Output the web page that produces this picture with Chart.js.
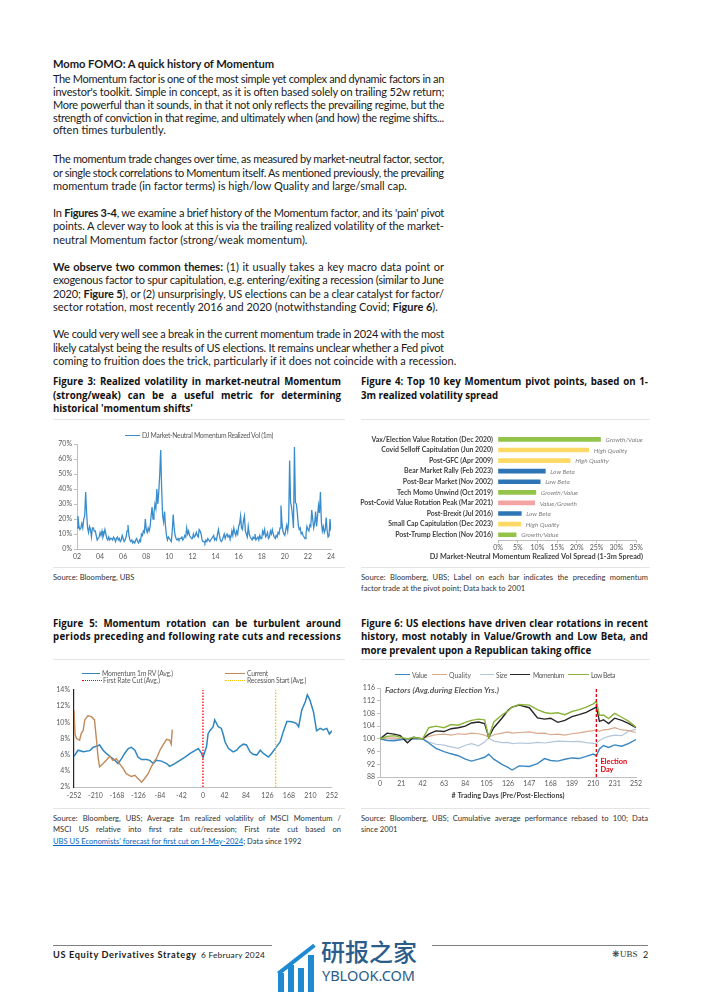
<!DOCTYPE html>
<html><head><meta charset="utf-8">
<script src="https://cdn.jsdelivr.net/npm/chart.js@4.4.1/dist/chart.umd.min.js"></script>
<style>
html,body{margin:0;padding:0;background:#fff;}
#page{position:relative;width:702px;height:992px;overflow:hidden;background:#fff;font-family:Lato,'Liberation Sans',sans-serif;color:#1a1a1a;}
.t{position:absolute;white-space:nowrap;line-height:13px;font-size:11px;}
.h{font-size:11.2px;font-weight:bold;line-height:14px;}
.ft{font-family:'Open Sans',Lato,sans-serif;font-size:9.7px;font-weight:bold;line-height:12px;color:#111;}
.src{font-size:7.6px;line-height:10px;color:#333;}
.lg{position:absolute;white-space:nowrap;font-size:6.8px;line-height:8px;color:#595959;}
.ls{position:absolute;height:0;width:0;}
.sep{position:absolute;height:1px;background:#e4e4e4;}
canvas{position:absolute;}
a{color:#0563c1;text-decoration:underline;}
</style></head>
<body><div id="page">

<div class="t h" style="left:53px;top:56.5px" data-w="221">Momo FOMO: A quick history of Momentum</div>

<div class="t" style="left:53px;top:72px" data-w="391" data-j>The Momentum factor is one of the most simple yet complex and dynamic factors in an</div>
<div class="t" style="left:53px;top:85px" data-w="391" data-j>investor's toolkit. Simple in concept, as it is often based solely on trailing 52w return;</div>
<div class="t" style="left:53px;top:98px" data-w="391" data-j>More powerful than it sounds, in that it not only reflects the prevailing regime, but the</div>
<div class="t" style="left:53px;top:110.5px" data-w="391" data-j>strength of conviction in that regime, and ultimately when (and how) the regime shifts...</div>
<div class="t" style="left:53px;top:123px">often times turbulently.</div>

<div class="t" style="left:53px;top:152px" data-w="391" data-j>The momentum trade changes over time, as measured by market-neutral factor, sector,</div>
<div class="t" style="left:53px;top:165.5px" data-w="391" data-j>or single stock correlations to Momentum itself. As mentioned previously, the prevailing</div>
<div class="t" style="left:53px;top:179px">momentum trade (in factor terms) is high/low Quality and large/small cap.</div>

<div class="t" style="left:53px;top:205.5px" data-w="391" data-j>In <b>Figures 3-4</b>, we examine a brief history of the Momentum factor, and its 'pain' pivot</div>
<div class="t" style="left:53px;top:219px" data-w="391" data-j>points. A clever way to look at this is via the trailing realized volatility of the market-</div>
<div class="t" style="left:53px;top:232.5px">neutral Momentum factor (strong/weak momentum).</div>

<div class="t" style="left:53px;top:259.5px" data-w="391" data-j><b>We observe two common themes:</b> (1) it usually takes a key macro data point or</div>
<div class="t" style="left:53px;top:273px" data-w="391" data-j>exogenous factor to spur capitulation, e.g. entering/exiting a recession (similar to June</div>
<div class="t" style="left:53px;top:286.5px" data-w="391" data-j>2020; <b>Figure 5</b>), or (2) unsurprisingly, US elections can be a clear catalyst for factor/</div>
<div class="t" style="left:53px;top:300px">sector rotation, most recently 2016 and 2020 (notwithstanding Covid; <b>Figure 6</b>).</div>

<div class="t" style="left:53px;top:327px" data-w="391" data-j>We could very well see a break in the current momentum trade in 2024 with the most</div>
<div class="t" style="left:53px;top:340.5px" data-w="391" data-j>likely catalyst being the results of US elections. It remains unclear whether a Fed pivot</div>
<div class="t" style="left:53px;top:354px">coming to fruition does the trick, particularly if it does not coincide with a recession.</div>

<!-- Figure titles -->
<div class="t ft" style="left:53px;top:376.2px" data-w="288" data-j>Figure 3: Realized volatility in market-neutral Momentum</div>
<div class="t ft" style="left:53px;top:389.7px" data-w="288" data-j>(strong/weak) can be a useful metric for determining</div>
<div class="t ft" style="left:53px;top:403.2px">historical 'momentum shifts'</div>

<div class="t ft" style="left:361px;top:376.2px" data-w="287" data-j>Figure 4: Top 10 key Momentum pivot points, based on 1-</div>
<div class="t ft" style="left:361px;top:389.7px">3m realized volatility spread</div>

<div class="sep" style="left:53px;top:419px;width:292px"></div>
<div class="sep" style="left:361px;top:419px;width:289px"></div>
<div class="sep" style="left:53px;top:567px;width:292px"></div>
<div class="sep" style="left:361px;top:567px;width:289px"></div>

<canvas id="c3" width="290" height="140" style="left:53px;top:425px"></canvas>
<div class="ls" style="left:125px;top:434.5px;width:15px;border-top:1.5px solid #3a8dcc"></div>
<div class="lg" style="left:142px;top:431px" data-w="131">DJ Market-Neutral Momentum Realized Vol (1m)</div>

<canvas id="c4" width="295" height="140" style="left:355px;top:425px"></canvas>

<div class="t src" style="left:53px;top:571.7px">Source: Bloomberg, UBS</div>
<div class="t src" style="left:361px;top:571.7px" data-w="287" data-j>Source: Bloomberg, UBS; Label on each bar indicates the preceding momentum</div>
<div class="t src" style="left:361px;top:582.7px">factor trade at the pivot point; Data back to 2001</div>

<div class="t ft" style="left:53px;top:617.7px" data-w="288" data-j>Figure 5: Momentum rotation can be turbulent around</div>
<div class="t ft" style="left:53px;top:631.2px" data-w="288">periods preceding and following rate cuts and recessions</div>

<div class="t ft" style="left:361px;top:617.7px" data-w="287" data-j>Figure 6: US elections have driven clear rotations in recent</div>
<div class="t ft" style="left:361px;top:631.2px" data-w="287" data-j>history, most notably in Value/Growth and Low Beta, and</div>
<div class="t ft" style="left:361px;top:644.7px">more prevalent upon a Republican taking office</div>

<div class="sep" style="left:53px;top:659px;width:292px"></div>
<div class="sep" style="left:361px;top:659px;width:289px"></div>
<div class="sep" style="left:53px;top:808px;width:292px"></div>
<div class="sep" style="left:361px;top:808px;width:289px"></div>

<canvas id="c5" width="290" height="140" style="left:53px;top:665px"></canvas>
<div class="ls" style="left:82px;top:672.7px;width:18px;border-top:1.5px solid #2e86c1"></div>
<div class="lg" style="left:102px;top:669.3px" data-w="71">Momentum 1m RV (Avg.)</div>
<div class="ls" style="left:225px;top:672.7px;width:20px;border-top:1.5px solid #c08a5b"></div>
<div class="lg" style="left:247px;top:669.3px" data-w="21">Current</div>
<div class="ls" style="left:82px;top:679.5px;width:20px;border-top:1.5px dotted #ff0000"></div>
<div class="lg" style="left:103px;top:676px" data-w="57">First Rate Cut (Avg.)</div>
<div class="ls" style="left:225px;top:679.5px;width:20px;border-top:1.5px dotted #ffc000"></div>
<div class="lg" style="left:247px;top:676px" data-w="59">Recession Start (Avg.)</div>

<canvas id="c6" width="289" height="140" style="left:361px;top:665px"></canvas>
<div class="ls" style="left:395px;top:674.3px;width:15px;border-top:1.5px solid #3a87c2"></div>
<div class="lg" style="left:412px;top:671px" data-w="15">Value</div>
<div class="ls" style="left:432px;top:674.3px;width:15px;border-top:1.5px solid #d9a98c"></div>
<div class="lg" style="left:449px;top:671px" data-w="22">Quality</div>
<div class="ls" style="left:480px;top:674.3px;width:14px;border-top:1.5px solid #b4c6da"></div>
<div class="lg" style="left:496px;top:671px" data-w="11">Size</div>
<div class="ls" style="left:510px;top:674.3px;width:20px;border-top:1.5px solid #262626"></div>
<div class="lg" style="left:533px;top:671px" data-w="31">Momentum</div>
<div class="ls" style="left:568px;top:674.3px;width:21px;border-top:1.5px solid #8cb43c"></div>
<div class="lg" style="left:591px;top:671px" data-w="24">Low Beta</div>

<div class="t src" style="left:53px;top:812.7px" data-w="288" data-j>Source: Bloomberg, UBS; Average 1m realized volatility of MSCI Momentum /</div>
<div class="t src" style="left:53px;top:824.2px" data-w="288" data-j>MSCI US relative into first rate cut/recession; First rate cut based on</div>
<div class="t src" style="left:53px;top:835.7px"><a>UBS US Economists' forecast for first cut on 1-May-2024</a>; Data since 1992</div>

<div class="t src" style="left:361px;top:812.7px" data-w="287" data-j>Source: Bloomberg, UBS; Cumulative average performance rebased to 100; Data</div>
<div class="t src" style="left:361px;top:824.2px">since 2001</div>

<!-- footer -->
<div style="position:absolute;left:53px;top:945px;width:595px;height:1px;background:#7f7f7f"></div>
<div class="t" style="left:53px;top:949px;font-size:9.2px;font-weight:bold;line-height:12px" data-w="144">US Equity Derivatives Strategy</div>
<div class="t" style="left:201px;top:949px;font-size:8.4px;line-height:12px" data-w="64">6 February 2024</div>
<div class="t" style="left:612px;top:948px;font-size:9px;line-height:13px;font-family:'Liberation Serif',serif;color:#333">❋UBS</div>
<div class="t" style="left:643px;top:949px;font-size:9px;line-height:12px">2</div>

<!-- watermark -->
<div style="position:absolute;left:272px;top:936px;width:160px;height:56px;background:#fff"></div>
<div style="position:absolute;left:278px;top:973px;width:6px;height:19px;background:#1e8ad2"></div>
<div style="position:absolute;left:288px;top:965px;width:6px;height:27px;background:#1e8ad2"></div>
<div style="position:absolute;left:298px;top:968px;width:6px;height:24px;background:#1e8ad2"></div>
<div style="position:absolute;left:308px;top:955px;width:6px;height:37px;background:#1e8ad2"></div>
<div style="position:absolute;width:46px;height:4px;background:#1e8ad2;transform:rotate(-38deg);transform-origin:0 0;left:277px;top:972px"></div>
<div class="t" style="left:321px;top:936px;font-size:24px;line-height:30px;font-family:'Noto Sans CJK SC',sans-serif;font-weight:500;color:#2b5c8a">研报之家</div>
<div class="t" style="left:322px;top:966px;font-size:14.5px;line-height:18px;font-family:'Noto Sans','Open Sans',sans-serif;color:#2b5c8a;letter-spacing:0.6px" data-w="99">YBLOOK.COM</div>

</div>
<script>
// ---------- Figure 3 data: DJ market-neutral momentum realized vol (1m), monthly from Jan 2002 ----------
const rvStartYear = 2002;
const realizedVol = [
 14,22,15,13,14,17,14,20,22,38,24,14,   // 2002
 11,15,13,8,14,14,12,12,9,6,7,8,        // 2003
 11,9,12,8,10,13,10,7,6,8,6,7,          // 2004
 7,6,8,7,5,7,8,6,7,5,6,9,               // 2005
 7,5,6,8,12,16,9,6,5,6,4,5,             // 2006
 4,6,7,5,4,6,5,10,9,12,11,20,           // 2007
 13,11,14,12,15,22,28,20,24,30,27,40,   // 2008
 30,38,50,66,40,22,18,25,15,9,6,8,      // 2009
 7,6,5,12,23,14,9,7,6,7,6,7,            // 2010
 7,8,6,7,9,8,14,10,12,9,8,7,            // 2011
 7,10,8,9,11,9,8,13,12,10,6,5,          // 2012
 5,4,6,5,7,6,5,6,7,8,9,6,               // 2013
 7,6,10,13,9,6,5,6,8,10,7,9,            // 2014
 10,8,9,7,8,12,9,14,11,9,12,10,         // 2015
 15,17,22,14,13,19,22,12,10,8,15,10,    // 2016
 8,7,6,8,7,10,6,7,8,6,9,7,              // 2017
 7,12,10,13,8,9,11,7,8,12,10,13,        // 2018
 10,8,7,9,8,11,10,14,29,18,12,10,       // 2019
 9,13,16,12,18,59,31,28,22,14,68,31,    // 2020
 30,24,16,13,14,10,11,9,8,7,10,15,      // 2021
 13,12,16,15,26,20,14,17,25,15,22,29,   // 2022
 24,38,18,12,15,11,13,21,12,8,9,20,     // 2023
 12                                      // 2024
];
const rvYearTicks = [2002, 2024, 2];      // min, max, step
const rvPctTicks = [0, 70, 10];

// ---------- Figure 4 data ----------
const pivotLabels = ['Vax/Election Value Rotation (Dec 2020)','Covid Selloff Capitulation (Jun 2020)','Post-GFC (Apr 2009)','Bear Market Rally (Feb 2023)','Post-Bear Market (Nov 2002)','Tech Momo Unwind (Oct 2019)','Post-Covid Value Rotation Peak (Mar 2021)','Post-Brexit (Jul 2016)','Small Cap Capitulation (Dec 2023)','Post-Trump Election (Nov 2016)'];
const pivotSpread = [26, 23, 18.3, 12, 10.7, 9.6, 9.3, 5.9, 5.8, 4.6];
const pivotTrade = ['Growth/Value','High Quality','High Quality','Low Beta','Low Beta','Growth/Value','Value/Growth','Low Beta','High Quality','Growth/Value'];
const spreadTicks = [0, 35, 5];
const spreadAxisTitle = 'DJ Market-Neutral Momentum Realized Vol Spread (1-3m Spread)';

// ---------- Figure 5 data ----------
const rateDays = [-252,-244,-234,-221,-215,-208,-202,-195,-189,-182,-172,-166,-159,-153,-146,-140,-133,-127,-120,-110,-104,-97,-91,-81,-71,-65,-55,-45,-35,-25,-16,-9,-3,0,7,10,14,20,23,30,36,40,43,50,59,66,72,79,85,92,98,105,112,118,128,134,141,151,157,164,170,177,183,187,193,200,204,209,216,222,229,235,242,247,252];
const momentumRV = [5.8,6.55,6.35,6.5,6.9,7.05,7.2,6.55,6.15,5.8,5.3,4.9,5.5,6.15,6.75,6.9,6.55,5.7,5.4,5.4,5.3,4.9,5.3,5.2,4.9,4.55,4.9,5.3,5.7,6.15,6.5,6.75,6.2,5.65,7.0,8.6,9.0,9.45,10.3,9.45,9.25,8.4,7.6,6.75,6.35,6.55,7.0,7.3,7.2,6.35,6.05,5.95,6.55,6.15,5.7,6.15,6.75,7.6,8.85,10.1,10.1,10.0,9.85,9.45,11.5,12.55,13.4,12.75,11.3,8.95,9.25,9.05,9.25,8.55,8.95];
const currentDays = [-252,-250,-247,-241,-238,-234,-231,-225,-218,-212,-208,-205,-202,-195,-189,-182,-176,-169,-163,-156,-150,-140,-133,-127,-120,-114,-107,-101,-94,-91,-84,-78,-71,-65,-62,-60];
const currentRV = [11.5,8.5,8.0,7.8,8.6,9.0,10.3,10.8,10.7,10.3,7.8,5.7,4.5,4.9,5.3,5.8,5.3,5.5,4.9,4.3,3.65,3.3,3.45,3.05,2.6,3.05,3.65,4.5,5.3,5.5,6.55,7.2,7.9,7.8,7.3,9.1];
const firstRateCutDay = 0;
const recessionStartDay = 142;
const rateDayTicks = [-252, 252, 42];
const ratePctTicks = [2, 14, 2];

// ---------- Figure 6 data ----------
const electionDays = [0,7,14,20,27,33,42,48,55,63,70,77,84,90,97,103,107,112,120,126,130,137,147,155,162,168,175,182,189,196,203,210,213,216,220,225,231,238,245,252];
const valueF    = [100,99.5,99.4,99.7,100,100,100,98.7,97,96,95.3,94.7,93.6,93,93.6,94.2,95.2,93.6,92,91,90.2,91.5,91.3,92.2,93.8,93.2,93,93.6,94,93.8,94.5,95.2,94.7,96.8,97.9,97.3,98.1,97.7,98.6,99.8];
const qualityF  = [100,100.2,100.3,100,100,100.2,100,100.8,101.3,101.5,101.2,101.6,101.4,101.8,101.6,101.2,100.5,101.3,101.8,102.2,101.8,102,102.2,101.7,101.8,101.3,101.5,101.2,101.6,101.9,102.3,102.6,102.8,102.4,102.8,103,103.5,102.8,102.6,102];
const sizeF     = [100,99.6,99.8,100,99.7,100,100,99,98.3,98,97.5,97,98,98.5,97.8,99,100.3,99.3,98.8,98.9,98.5,98.7,98.6,98.9,98.7,99,99.3,99.2,99.1,99.2,98.8,98.6,98.5,99.5,100.2,100.8,101.2,101,102.5,103];
const momentumF = [100,101.8,101.5,101,98.8,100.5,100,101.5,102.5,102.3,103.2,103.5,104,105,105.3,104.8,100.5,103.5,106.5,109,110,110.6,109.8,106.6,106.2,106.5,105.2,105.8,107,107.6,108.3,109.5,110,105.5,106,104.8,106.5,105.8,104.8,103.5];
const lowBetaF  = [100,100.8,101,100.5,100,100.5,100,103.5,104,103.5,104.5,104.3,105.2,105.8,106.2,106,100.5,105.3,107.5,108.8,110,110.8,110.6,109.2,108.3,108,108.2,107.6,108.6,109.2,110,111,111.8,107.4,107.5,106.4,108,106.8,105.5,103.7];
const electionDay = 213;
const electionDayTicks = [0, 252, 21];
const electionIdxTicks = [88, 116, 4];

// ---------- text fitting ----------
function fitText(){
  document.querySelectorAll('[data-w]').forEach(el=>{
    const w = parseFloat(el.dataset.w);
    const r = document.createRange(); r.selectNodeContents(el);
    const nat = r.getBoundingClientRect().width;
    const txt = el.textContent;
    const sp = (txt.match(/ /g)||[]).length;
    if (el.hasAttribute('data-j') && nat < w && sp > 0) {
      el.style.wordSpacing = ((w - nat)/sp) + 'px';
    } else {
      el.style.letterSpacing = ((w - nat)/Math.max(1, txt.length)) + 'px';
    }
  });
}
fitText();

// ---------- charts ----------
const F = "Lato, 'Liberation Sans', sans-serif";
const tickFont = {family: F, size: 7};
const gray = '#595959';
Chart.defaults.font.family = F;

// Figure 3
new Chart(document.getElementById('c3'), {
  type: 'line',
  data: { datasets: [{
    label: 'DJ Market-Neutral Momentum Realized Vol (1m)',
    data: realizedVol.map((v,i)=>({x: rvStartYear + i/12, y: v})),
    borderColor: '#3a8dcc', borderWidth: 1.3, pointRadius: 0, tension: 0
  }]},
  options: {
    responsive: false, animation: false, devicePixelRatio: 1,
    layout: {padding: {top: 19, right: 12, bottom: 0, left: 0}},
    plugins: {legend: {display: false}, tooltip: {enabled: false}},
    scales: {
      x: {type: 'linear', min: rvYearTicks[0], max: rvYearTicks[1],
          ticks: {stepSize: rvYearTicks[2], callback: v => String(v).slice(2), font: tickFont, color: gray, padding: 4, maxRotation: 0, minRotation: 0, autoSkip: false},
          grid: {display: false, drawTicks: false}, border: {color: '#bfbfbf'},
          afterFit: s => { s.height = 16; }},
      y: {min: rvPctTicks[0], max: rvPctTicks[1],
          ticks: {stepSize: rvPctTicks[2], callback: v => v + '%', font: tickFont, color: gray, padding: 2},
          grid: {drawOnChartArea: false, drawTicks: true, tickLength: 3, color: '#bfbfbf'}, border: {color: '#bfbfbf'},
          afterFit: s => { s.width = 24; }}
    }
  }
});

// Figure 4
const tradeColor = {'Growth/Value': '#92c44a', 'High Quality': '#ffd966', 'Low Beta': '#2e75b6', 'Value/Growth': '#f4a3a3'};
const barLabelPlugin = {
  id: 'barLabels',
  afterDatasetsDraw(chart) {
    const {ctx, chartArea} = chart;
    const meta = chart.getDatasetMeta(0);
    ctx.save();
    ctx.font = 'italic 6.4px ' + F;
    ctx.fillStyle = '#7f7f7f';
    ctx.textBaseline = 'middle';
    meta.data.forEach((bar, i) => { ctx.fillText(pivotTrade[i], bar.x + 5, bar.y + 0.5); });
    // axis title (drawn without width compression)
    ctx.font = 'bold 7.3px ' + F;
    ctx.fillStyle = '#404040';
    ctx.textAlign = 'right';
    ctx.fillText(spreadAxisTitle, chartArea.right + 7, chart.height - 8);
    ctx.restore();
  }
};
new Chart(document.getElementById('c4'), {
  type: 'bar',
  data: { labels: pivotLabels, datasets: [{
    data: pivotSpread, backgroundColor: pivotTrade.map(t => tradeColor[t]), barThickness: 4
  }]},
  options: {
    indexAxis: 'y', responsive: false, animation: false, devicePixelRatio: 1,
    layout: {padding: {top: 5.5, right: 14, bottom: 0, left: 0}},
    plugins: {legend: {display: false}, tooltip: {enabled: false}},
    scales: {
      x: {min: spreadTicks[0], max: spreadTicks[1],
          ticks: {stepSize: spreadTicks[2], callback: v => v + '%', font: tickFont, color: gray, padding: 1, maxRotation: 0, minRotation: 0, autoSkip: false},
          grid: {drawOnChartArea: false, drawTicks: true, tickLength: 3, color: '#bfbfbf'}, border: {color: '#bfbfbf'},
          afterFit: s => { s.height = 25; }},
      y: {ticks: {font: {family: F, size: 6.9, weight: 'bold'}, color: '#404040', padding: 5, autoSkip: false},
          grid: {display: false, drawTicks: false}, border: {display: false},
          afterFit: s => { s.width = 143; }}
    }
  },
  plugins: [barLabelPlugin]
});

// Figure 5
new Chart(document.getElementById('c5'), {
  type: 'line',
  data: { datasets: [
    {label: 'First Rate Cut (Avg.)', data: [{x: firstRateCutDay, y: ratePctTicks[0]}, {x: firstRateCutDay, y: ratePctTicks[1]}], borderColor: '#ff0000', borderWidth: 1.3, borderDash: [1.5, 1.5], pointRadius: 0},
    {label: 'Recession Start (Avg.)', data: [{x: recessionStartDay, y: ratePctTicks[0]}, {x: recessionStartDay, y: ratePctTicks[1]}], borderColor: '#ffc000', borderWidth: 1.3, borderDash: [1.5, 1.5], pointRadius: 0},
    {label: 'Current', data: currentDays.map((d,i)=>({x: d, y: currentRV[i]})), borderColor: '#c08a5b', borderWidth: 1.4, pointRadius: 0, tension: 0},
    {label: 'Momentum 1m RV (Avg.)', data: rateDays.map((d,i)=>({x: d, y: momentumRV[i]})), borderColor: '#2e86c1', borderWidth: 1.5, pointRadius: 0, tension: 0}
  ]},
  options: {
    responsive: false, animation: false, devicePixelRatio: 1,
    layout: {padding: {top: 25, right: 11, bottom: 0, left: 0}},
    plugins: {legend: {display: false}, tooltip: {enabled: false}},
    scales: {
      x: {type: 'linear', min: rateDayTicks[0], max: rateDayTicks[1],
          ticks: {stepSize: rateDayTicks[2], font: tickFont, color: gray, padding: 5, maxRotation: 0, minRotation: 0, autoSkip: false},
          grid: {display: false, drawTicks: false}, border: {color: '#bfbfbf'},
          afterFit: s => { s.height = 18; }},
      y: {min: ratePctTicks[0], max: ratePctTicks[1],
          ticks: {stepSize: ratePctTicks[2], callback: v => v + '%', font: tickFont, color: gray, padding: 4},
          grid: {display: false, drawTicks: false}, border: {color: '#262626', width: 1.2},
          afterFit: s => { s.width = 21; }}
    }
  }
});

// Figure 6
const factorNotes = {
  id: 'factorNotes',
  afterDatasetsDraw(chart) {
    const {ctx, chartArea, scales} = chart;
    ctx.save();
    ctx.font = 'italic bold 8.3px ' + F;
    ctx.fillStyle = '#595959';
    ctx.textBaseline = 'middle';
    ctx.fillText('Factors (Avg.during Election Yrs.)', chartArea.left + 5, chartArea.top + 2.5);
    const ex = scales.x.getPixelForValue(electionDay) + 4;
    ctx.font = 'bold 7.4px ' + F;
    ctx.fillStyle = '#e3000f';
    ctx.fillText('Election', ex, chartArea.bottom - 15);
    ctx.fillText('Day', ex, chartArea.bottom - 7);
    ctx.restore();
  }
};
const pts = arr => electionDays.map((d,i)=>({x: d, y: arr[i]}));
new Chart(document.getElementById('c6'), {
  type: 'line',
  data: { datasets: [
    {label: 'Election', data: [{x: electionDay, y: electionIdxTicks[0]}, {x: electionDay, y: electionIdxTicks[1]}], borderColor: '#e3000f', borderWidth: 1.4, borderDash: [3, 2], pointRadius: 0},
    {label: 'Low Beta', data: pts(lowBetaF), borderColor: '#8cb43c', borderWidth: 1.4, pointRadius: 0},
    {label: 'Momentum', data: pts(momentumF), borderColor: '#262626', borderWidth: 1.4, pointRadius: 0},
    {label: 'Value', data: pts(valueF), borderColor: '#3a87c2', borderWidth: 1.4, pointRadius: 0},
    {label: 'Quality', data: pts(qualityF), borderColor: '#d9a98c', borderWidth: 1.2, pointRadius: 0},
    {label: 'Size', data: pts(sizeF), borderColor: '#b4c6da', borderWidth: 1.2, pointRadius: 0}
  ]},
  options: {
    responsive: false, animation: false, devicePixelRatio: 1,
    layout: {padding: {top: 23, right: 14, bottom: 0, left: 0}},
    plugins: {legend: {display: false}, tooltip: {enabled: false}},
    scales: {
      x: {type: 'linear', min: electionDayTicks[0], max: electionDayTicks[1],
          ticks: {stepSize: electionDayTicks[2], font: tickFont, color: gray, padding: 3, maxRotation: 0, minRotation: 0, autoSkip: false},
          grid: {display: false, drawTicks: false}, border: {color: '#bfbfbf'},
          title: {display: true, text: '# Trading Days (Pre/Post-Elections)', font: {family: F, size: 7.2, weight: 'bold'}, color: '#404040', padding: {top: 0, bottom: 5}},
          afterFit: s => { s.height = 28; }},
      y: {min: electionIdxTicks[0], max: electionIdxTicks[1],
          ticks: {stepSize: electionIdxTicks[2], font: tickFont, color: gray, padding: 2},
          grid: {drawOnChartArea: false, drawTicks: true, tickLength: 3, color: '#bfbfbf'}, border: {color: '#bfbfbf'},
          afterFit: s => { s.width = 19; }}
    }
  },
  plugins: [factorNotes]
});
</script>
</body></html>
